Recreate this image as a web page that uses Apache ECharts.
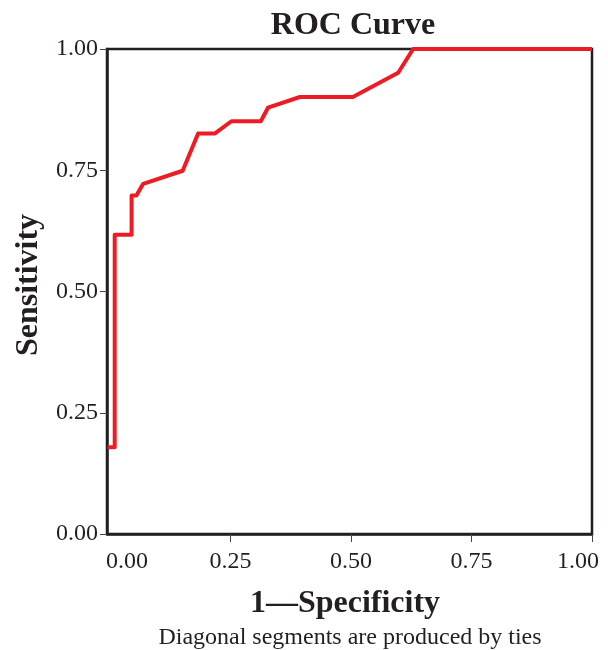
<!DOCTYPE html>
<html>
<head>
<meta charset="utf-8">
<script src="https://cdn.jsdelivr.net/npm/echarts@6/dist/echarts.min.js"></script>
<style>
  html, body { margin: 0; padding: 0; background: #fff; }
  #chart { width: 608px; height: 650px; }
</style>
</head>
<body>
<div id="chart"></div>
<script>
// ROC curve points (1 - specificity, sensitivity)
var fprValues = [-0.005, 0.010, 0.010, 0.045, 0.045, 0.055, 0.069, 0.151, 0.183, 0.218, 0.252, 0.313, 0.328, 0.394, 0.504, 0.598, 0.629, 1.000];
var tprValues = [0.179, 0.179, 0.617, 0.617, 0.698, 0.698, 0.722, 0.749, 0.826, 0.826, 0.851, 0.851, 0.879, 0.901, 0.901, 0.951, 1.000, 1.000];

var xLabelValues = [0, 0.25, 0.5, 0.75, 1];
var xTickValues = [0.25, 0.5, 0.75, 1];
var yTickValues = [0, 0.25, 0.5, 0.75, 1];

var serif = '"Liberation Serif", "Times New Roman", serif';
var ink = '#231f20';

var points = [];
for (var i = 0; i < fprValues.length; i++) {
    points.push([fprValues[i], tprValues[i]]);
}

var myChart = echarts.init(document.getElementById('chart'), null, { renderer: 'canvas' });
var option = {
    animation: false,
    backgroundColor: '#fff',
    grid: {
        left: 107,
        right: 16,
        top: 49,
        bottom: 116,
        containLabel: false,
        outerBoundsMode: 'none',
        show: true,
        borderColor: ink,
        borderWidth: 2.5
    },
    xAxis: {
        type: 'value',
        min: -0.006,
        max: 1,
        axisLine: { show: true, onZero: false, lineStyle: { color: ink, width: 2.5 } },
        axisTick: {
            show: true,
            customValues: xTickValues,
            length: 8,
            lineStyle: { color: '#444', width: 1 }
        },
        axisLabel: {
            customValues: xLabelValues,
            margin: 16,
            fontFamily: serif,
            fontSize: 24,
            color: ink,
            formatter: function (v) {
                var s = v.toFixed(2);
                if (v === 0) return '{first|' + s + '}';
                if (v === 1) return '{last|' + s + '}';
                return s;
            },
            rich: {
                first: { fontFamily: serif, fontSize: 24, color: ink, padding: [0, 0, 0, 34] },
                last: { fontFamily: serif, fontSize: 24, color: ink, padding: [0, 28, 0, 0] }
            }
        },
        splitLine: { show: false }
    },
    yAxis: {
        type: 'value',
        min: 0,
        max: 1,
        axisLine: { show: true, onZero: false, lineStyle: { color: ink, width: 2.5 } },
        axisTick: {
            show: true,
            customValues: yTickValues,
            length: 7,
            lineStyle: { color: '#444', width: 1 }
        },
        axisLabel: {
            customValues: yTickValues,
            margin: 9,
            fontFamily: serif,
            fontSize: 24,
            color: ink,
            formatter: function (v) { return v.toFixed(2); }
        },
        splitLine: { show: false }
    },
    graphic: [
        {
            type: 'text', x: 353, y: 26,
            style: { text: 'ROC Curve', font: 'bold 32px ' + serif, fill: ink, textAlign: 'center', textVerticalAlign: 'middle' }
        },
        {
            type: 'text', x: 345, y: 604,
            style: { text: '1\u2014Specificity', font: 'bold 32px ' + serif, fill: ink, textAlign: 'center', textVerticalAlign: 'middle' }
        },
        {
            type: 'text', x: 350, y: 638,
            style: { text: 'Diagonal segments are produced by ties', font: '24px ' + serif, fill: ink, textAlign: 'center', textVerticalAlign: 'middle' }
        },
        {
            type: 'text', x: 29, y: 285, rotation: Math.PI / 2,
            style: { text: 'Sensitivity', font: 'bold 32px ' + serif, fill: ink, textAlign: 'center', textVerticalAlign: 'middle' }
        }
    ],
    series: [{
        type: 'line',
        data: points,
        showSymbol: false,
        clip: false,
        z: 5,
        lineStyle: { color: '#ed1c24', width: 4, join: 'round' }
    }]
};
myChart.setOption(option);
</script>
</body>
</html>
